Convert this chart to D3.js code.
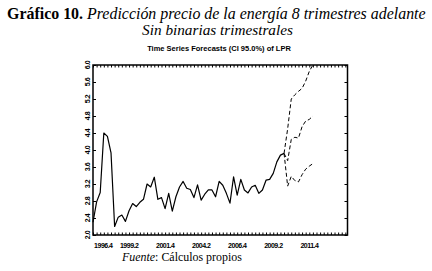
<!DOCTYPE html>
<html>
<head>
<meta charset="utf-8">
<script src="https://cdn.jsdelivr.net/npm/d3@7"></script>
<style>
  body { margin: 0; background: #fff; }
  svg { display: block; }
</style>
</head>
<body>
<div id="chart"></div>
<script>
// LPR quarterly, first observation 1996.3
const startYear = 1996, startQ = 3;

const actual = [2.3, 2.78, 3.0, 4.4, 4.32, 3.93, 2.2, 2.42, 2.47, 2.32,
  2.57, 2.74, 2.67, 2.77, 2.84, 3.2, 3.13, 3.36, 2.84, 2.88,
  2.62, 2.98, 2.56, 2.9, 3.13, 3.26, 3.1, 3.07, 2.88, 3.18,
  2.82, 2.96, 3.06, 3.06, 2.9, 3.26, 3.17, 2.98, 2.75, 3.37,
  2.94, 3.31, 3.06, 2.99, 3.13, 3.17, 2.98, 3.06, 3.29, 3.31,
  3.45, 3.72, 3.88, 3.92];

// 8 quarters ahead: 2010.1 - 2011.4
const fcMean  = [3.75, 4.25, 4.3, 4.28, 4.55, 4.68, 4.72, 4.8];
const fcUpper = [4.5, 5.2, 5.3, 5.38, 5.45, 5.62, 5.85, 6.0];
const fcLower = [3.15, 3.38, 3.28, 3.25, 3.42, 3.55, 3.62, 3.68];

const xTickLabels = ["1996.4", "1999.2", "2001.4", "2004.2", "2006.4", "2009.2", "2011.4"];
const yTickValues = [2.0, 2.4, 2.8, 3.2, 3.6, 4.0, 4.4, 4.8, 5.2, 5.6, 6.0];

const W = 432, H = 271;
const plot = {left: 93, right: 347.5, top: 65, bottom: 235};

function qIndex(label) {
  const [yr, q] = label.split(".").map(Number);
  return (yr - startYear) * 4 + q - startQ;
}

const svg = d3.select("#chart").append("svg")
  .attr("width", W).attr("height", H)
  .attr("viewBox", [0, 0, W, H]);

svg.append("rect").attr("width", W).attr("height", H).attr("fill", "#fff");

let x = d3.scaleLinear()
  .domain([0, 70.6])
  .range([plot.left, plot.right]);

let y = d3.scaleLinear()
  .domain([2.0, 6.0])
  .range([plot.bottom, plot.top]);

function fit(sel, target) {
  const w = sel.node().getComputedTextLength();
  const fs = parseFloat(sel.attr("font-size"));
  sel.attr("font-size", fs * target / w);
}

// titles
const t1 = svg.append("text")
  .attr("x", 7).attr("y", 19)
  .attr("font-family", "Liberation Serif, Times New Roman, serif")
  .attr("font-size", 15).attr("fill", "#000");
t1.append("tspan").attr("font-weight", "bold").text("Gráfico 10.");
t1.append("tspan").attr("font-style", "italic").text(" Predicción precio de la energía 8 trimestres adelante");
fit(t1, 419);

const t2 = svg.append("text")
  .attr("x", 217.5).attr("y", 35)
  .attr("text-anchor", "middle")
  .attr("font-family", "Liberation Serif, Times New Roman, serif")
  .attr("font-style", "italic")
  .attr("font-size", 15).attr("fill", "#000")
  .text("Sin binarias trimestrales");
fit(t2, 151);

const t3 = svg.append("text")
  .attr("x", 219).attr("y", 51)
  .attr("text-anchor", "middle")
  .attr("font-family", "Liberation Sans, Arial, sans-serif")
  .attr("font-weight", "bold")
  .attr("font-size", 7).attr("fill", "#000")
  .text("Time Series Forecasts (CI 95.0%) of LPR");
fit(t3, 144);

const foot = svg.append("text")
  .attr("x", 122).attr("y", 261)
  .attr("font-family", "Liberation Serif, Times New Roman, serif")
  .attr("font-size", 12).attr("fill", "#000");
foot.append("tspan").attr("font-style", "italic").text("Fuente");
foot.append("tspan").text(": Cálculos propios");
fit(foot, 120);

// minor ticks, inward
const minor = d3.range(0, 71);
svg.append("g")
  .attr("transform", `translate(0,${plot.bottom})`)
  .call(d3.axisBottom(x).tickValues(minor).tickSize(-2.5).tickFormat(""))
  .call(g => g.select(".domain").remove());
svg.append("g")
  .attr("transform", `translate(0,${plot.top})`)
  .call(d3.axisTop(x).tickValues(minor).tickSize(-2.5).tickFormat(""))
  .call(g => g.select(".domain").remove());
svg.append("g")
  .attr("transform", `translate(${plot.left},0)`)
  .call(d3.axisLeft(y).tickValues(yTickValues).tickSize(-3).tickFormat(""))
  .call(g => g.select(".domain").remove());
svg.append("g")
  .attr("transform", `translate(${plot.right},0)`)
  .call(d3.axisRight(y).tickValues(yTickValues).tickSize(-3).tickFormat(""))
  .call(g => g.select(".domain").remove());

// x labels
const gx = svg.append("g")
  .attr("transform", `translate(0,${plot.bottom})`)
  .call(d3.axisBottom(x)
    .tickValues(xTickLabels.map(qIndex))
    .tickFormat((d, i) => xTickLabels[i])
    .tickSize(0).tickPadding(12.5))
  .call(g => g.select(".domain").remove());
gx.selectAll("text")
  .attr("font-family", "Liberation Sans, Arial, sans-serif")
  .attr("font-weight", "bold")
  .attr("font-size", 7)
  .attr("letter-spacing", -0.5)
  .attr("fill", "#000")
  .attr("dy", 0)
  .attr("dx", -4);
gx.select(".tick:first-of-type text")
  .attr("text-anchor", "start")
  .attr("dx", -3);

// y labels, rotated
svg.append("g").selectAll("text")
  .data(yTickValues)
  .join("text")
  .attr("transform", d => `translate(88,${y(d)}) rotate(-90)`)
  .attr("text-anchor", "middle")
  .attr("dy", "0.35em")
  .attr("font-family", "Liberation Sans, Arial, sans-serif")
  .attr("font-weight", "bold")
  .attr("font-size", 7)
  .attr("letter-spacing", -0.4)
  .attr("fill", "#000")
  .text(d => d.toFixed(1));

// series
const line = d3.line()
  .x(d => x(d.i))
  .y(d => y(d.v));

const actualPts = actual.map((v, i) => ({i, v}));
const last = actualPts[actualPts.length - 1];
const fcPts = arr => [last].concat(arr.map((v, j) => ({i: last.i + 1 + j, v})));

svg.append("path")
  .datum(actualPts)
  .attr("fill", "none")
  .attr("stroke", "#000")
  .attr("stroke-width", 1.2)
  .attr("stroke-linejoin", "round")
  .attr("d", line);

[fcMean, fcUpper, fcLower].forEach(arr => {
  svg.append("path")
    .datum(fcPts(arr))
    .attr("fill", "none")
    .attr("stroke", "#000")
    .attr("stroke-width", 1)
    .attr("stroke-dasharray", "4,2.5")
    .attr("d", line);
});

// frame
svg.append("rect")
  .attr("x", plot.left).attr("y", plot.top)
  .attr("width", plot.right - plot.left)
  .attr("height", plot.bottom - plot.top)
  .attr("fill", "none")
  .attr("stroke", "#000")
  .attr("stroke-width", 1.5);
</script>
</body>
</html>
